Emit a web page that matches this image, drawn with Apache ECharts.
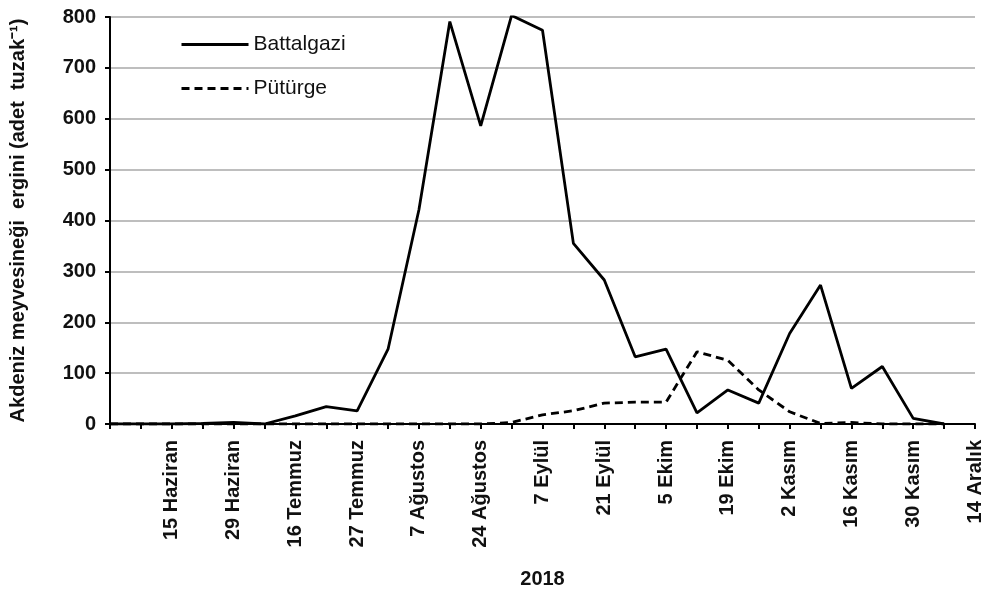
<!DOCTYPE html>
<html>
<head>
<meta charset="UTF-8">
<title>Akdeniz meyvesineği</title>
<script src="https://cdn.jsdelivr.net/npm/echarts@6/dist/echarts.min.js"></script>
<style>
  html, body { margin: 0; padding: 0; background: #fff; }
  #main { width: 987px; height: 598px; }
</style>
</head>
<body>
<div id="main"></div>
<script>
// x ekseni: 29 nokta, her ikinci noktada tarih etiketi
var dates = ['', '', '15 Haziran', '', '29 Haziran', '', '16 Temmuz', '', '27 Temmuz', '',
  '7 Ağustos', '', '24 Ağustos', '', '7 Eylül', '', '21 Eylül', '', '5 Ekim', '',
  '19 Ekim', '', '2 Kasım', '', '16 Kasım', '', '30 Kasım', '', '14 Aralık'];

var battalgazi = [0, 0, 0, 1, 3, 0, 16, 34, 26, 147, 421, 791, 586, 803, 774, 355, 283, 132,
  147, 22, 67, 41, 178, 273, 70, 113, 11, 0, null];

var puturge = [0, 0, 0, 0, 0, 0, 0, 0, 0, 0, 0, 0, 0, 3, 18, 26, 41, 43,
  43, 142, 125, 67, 24, 1, 3, 0, 0, 0, null];

var yTicks = [0, 100, 200, 300, 400, 500, 600, 700, 800];

var myChart = echarts.init(document.getElementById('main'));

var option = {
  animation: false,
  grid: { left: 110, right: 12, top: 17, bottom: 174, outerBoundsMode: 'none' },
  legend: {
    orient: 'vertical',
    left: 180,
    top: 34,
    padding: 0,
    itemWidth: 67,
    itemHeight: 18,
    itemGap: 23,
    itemStyle: { opacity: 0 },
    lineStyle: { width: 3 },
    textStyle: { fontFamily: 'Liberation Sans', fontSize: 21, color: '#111' },
    data: ['Battalgazi', 'Pütürge']
  },
  xAxis: {
    type: 'category',
    boundaryGap: false,
    data: dates,
    name: '2018',
    nameLocation: 'middle',
    nameGap: 145,
    nameTextStyle: { fontFamily: 'Liberation Sans', fontWeight: 'bold', fontSize: 20, color: '#111' },
    axisLine: { lineStyle: { color: '#000', width: 2 } },
    axisTick: { show: true, interval: 0, length: 5, lineStyle: { color: '#000', width: 2 } },
    axisLabel: {
      interval: 0,
      rotate: 90,
      margin: 16,
      fontFamily: 'Liberation Sans',
      fontWeight: 'bold',
      fontSize: 20,
      color: '#111'
    },
    splitLine: { show: false }
  },
  yAxis: {
    type: 'value',
    min: yTicks[0],
    max: yTicks[yTicks.length - 1],
    interval: 100,
    name: 'Akdeniz meyvesineği  ergini (adet  tuzak⁻¹)',
    nameLocation: 'middle',
    nameGap: 82,
    nameTextStyle: { fontFamily: 'Liberation Sans', fontWeight: 'bold', fontSize: 20, color: '#111' },
    axisLine: { show: true, lineStyle: { color: '#000', width: 2 } },
    axisTick: { show: true, length: 5, lineStyle: { color: '#000', width: 2 } },
    axisLabel: {
      margin: 14,
      fontFamily: 'Liberation Sans',
      fontWeight: 'bold',
      fontSize: 20,
      color: '#111'
    },
    splitLine: { lineStyle: { color: '#a8a8a8', width: 1.5 } }
  },
  series: [
    {
      name: 'Battalgazi',
      type: 'line',
      data: battalgazi,
      symbol: 'none',
      lineStyle: { color: '#000', width: 2.8 },
      itemStyle: { color: 'rgba(0,0,0,0)' }
    },
    {
      name: 'Pütürge',
      type: 'line',
      data: puturge,
      symbol: 'none',
      lineStyle: { color: '#000', width: 2.8, type: [8, 5] },
      itemStyle: { color: 'rgba(0,0,0,0)' }
    }
  ]
};

myChart.setOption(option);
</script>
</body>
</html>
